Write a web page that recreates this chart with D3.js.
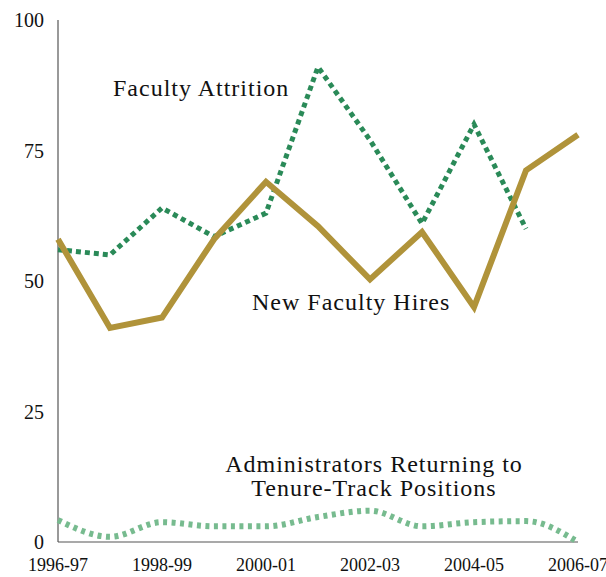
<!DOCTYPE html>
<html><head><meta charset="utf-8">
<script src="https://cdn.jsdelivr.net/npm/d3@7"></script>
<style>body{margin:0;background:#fff}</style>
</head><body>
<svg id="c" width="606" height="577"></svg>
<script>
const years = ["1996-97","1997-98","1998-99","1999-00","2000-01","2001-02","2002-03","2003-04","2004-05","2005-06","2006-07"];
const tickLabels = ["1996-97","1998-99","2000-01","2002-03","2004-05","2006-07"];
const yTicks = [0,25,50,75,100];
const attrition = [56,55,64,58.5,63,91,77,61,80,60];
const hires = [58,41,43,58,69,60.5,50.3,59.4,45,71.2,78];
const admin = [4.2,1,3.8,3,3,4.8,6,3,3.8,4,0];

const svg = d3.select("#c");
const font = "'Liberation Serif', 'DejaVu Serif', serif";
const x = d3.scalePoint().domain(years).range([58,578]);
const y = d3.scaleLinear().domain([0,100]).range([542,20]);

// axes
svg.append("line").attr("x1",58).attr("x2",58).attr("y1",y(100)).attr("y2",y(0)).attr("stroke","#555").attr("stroke-width",1.2);
svg.append("line").attr("x1",58).attr("x2",578).attr("y1",y(0)).attr("y2",y(0)).attr("stroke","#555").attr("stroke-width",1.2);

svg.selectAll(".yl").data(yTicks).enter().append("text")
  .attr("x",44).attr("y",d=>y(d)+7).attr("text-anchor","end")
  .attr("font-family",font).attr("font-size",20).attr("fill","#111").text(d=>d);
svg.selectAll(".xl").data(tickLabels).enter().append("text")
  .attr("x",d=>x(d)).attr("y",571).attr("text-anchor","middle")
  .attr("font-family",font).attr("font-size",18).attr("fill","#111").text(d=>d);

const line = d3.line().x((d,i)=>x(years[i])).y(d=>y(d));
const smooth = d3.line().x((d,i)=>x(years[i])).y(d=>y(d)).curve(d3.curveMonotoneX);

svg.append("path").attr("d",smooth(admin)).attr("fill","none").attr("stroke","#77bb8f").attr("stroke-width",6).attr("stroke-dasharray","4,4.5");
svg.append("path").attr("d",line(attrition)).attr("fill","none").attr("stroke","#2a8a58").attr("stroke-width",5).attr("stroke-dasharray","5,4");
svg.append("path").attr("d",line(hires)).attr("fill","none").attr("stroke","#b0933a").attr("stroke-width",6).attr("stroke-linejoin","miter");

const lab = (t,xx,yy,anchor)=>svg.append("text").attr("x",xx).attr("y",yy).attr("text-anchor",anchor||"start")
  .attr("font-family",font).attr("font-size",24).attr("letter-spacing",1).attr("fill","#111").text(t);
lab("Faculty Attrition",113,96);
lab("New Faculty Hires",252,310);
lab("Administrators Returning to",374,472,"middle");
lab("Tenure-Track Positions",374,496,"middle");
</script>
</body></html>
